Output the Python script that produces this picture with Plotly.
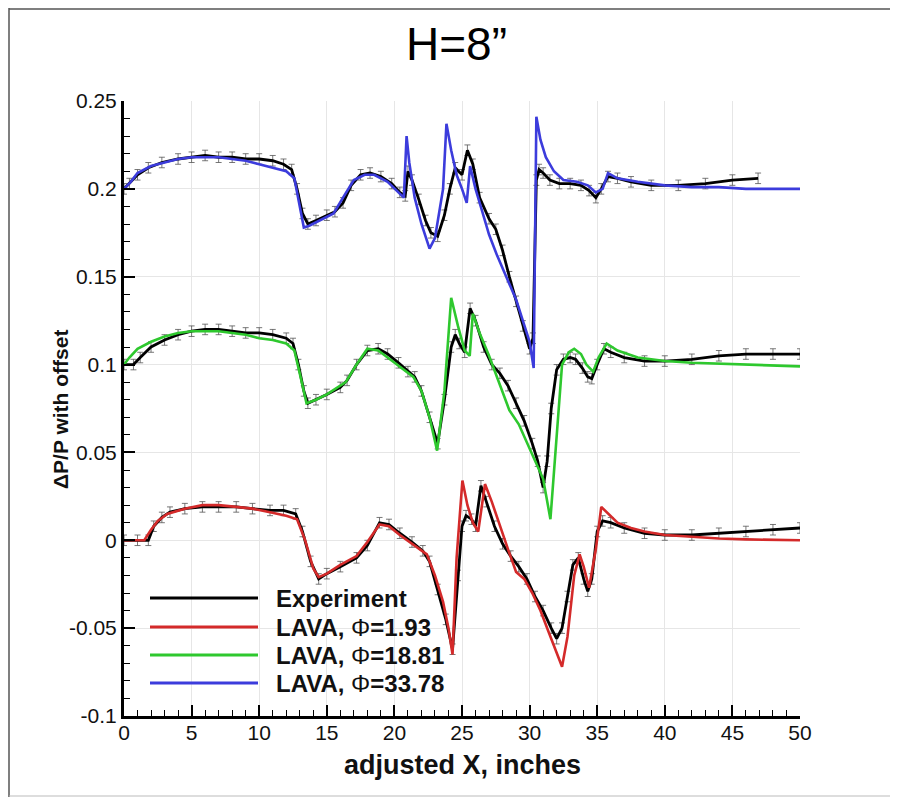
import plotly.graph_objects as go

# ---------------- data ----------------
# Top group (offset 0.2): Experiment vs LAVA Phi=33.78
x_exp_top = [0, 0.4, 1.0, 1.8, 2.8, 4, 5, 6, 7, 8, 9, 10, 11, 11.8, 12.4, 12.8, 13.2, 13.6,
             14.2, 15, 15.6, 16.2, 16.8, 17.5, 18.2, 19, 19.8, 20.4, 20.8, 21.0, 21.3, 21.8,
             22.3, 22.7, 23.2, 23.7, 24.1, 24.5, 25.0, 25.4, 25.8, 26.3, 27.0, 27.5, 28.0,
             28.5, 29.0, 29.5, 30.0, 30.25, 30.5, 30.7, 31.0, 31.5, 32.2, 33.0, 33.8, 34.4,
             34.9, 35.3, 35.8, 36.5, 37.5, 39, 41, 43, 45, 46.9]
y_exp_top = [0.200, 0.203, 0.208, 0.212, 0.215, 0.217, 0.218, 0.219, 0.218, 0.218, 0.217,
             0.217, 0.216, 0.214, 0.211, 0.200, 0.186, 0.180, 0.182, 0.185, 0.187, 0.192,
             0.202, 0.208, 0.209, 0.207, 0.203, 0.198, 0.196, 0.210, 0.205, 0.194, 0.182,
             0.175, 0.173, 0.185, 0.200, 0.212, 0.208, 0.222, 0.214, 0.195, 0.183, 0.177,
             0.165, 0.150, 0.136, 0.122, 0.109, 0.115, 0.205, 0.211, 0.209, 0.205, 0.203,
             0.203, 0.202, 0.199, 0.195, 0.200, 0.207, 0.206, 0.204, 0.202, 0.202, 0.203,
             0.205, 0.206]

x_lava_33 = [0, 0.5, 1, 2, 3, 4, 5, 6, 7, 8, 9, 10, 11, 12, 12.6, 13.0, 13.3, 13.7, 14.5,
             15.5, 16.2, 17, 17.8, 18.5, 19.5, 20.3, 20.7, 20.9, 21.1, 21.5, 22.0, 22.6, 23.0,
             23.6, 23.85, 24.2, 24.6, 25.0, 25.35, 25.6, 26.0, 26.5, 27.0, 27.6, 28.3, 29.0,
             29.5, 30.0, 30.3, 30.5, 30.8, 31.2, 31.8, 32.5, 33.5, 34.3, 34.9, 35.4, 35.8,
             36.5, 38, 40, 42, 44, 46, 48, 50]
y_lava_33 = [0.200, 0.204, 0.209, 0.213, 0.215, 0.217, 0.218, 0.218, 0.218, 0.217, 0.216,
             0.214, 0.212, 0.210, 0.206, 0.190, 0.178, 0.179, 0.182, 0.186, 0.195, 0.205,
             0.208, 0.208, 0.204, 0.198, 0.195, 0.230, 0.215, 0.195, 0.180, 0.166, 0.172,
             0.200, 0.237, 0.222, 0.208, 0.200, 0.192, 0.213, 0.200, 0.187, 0.174, 0.162,
             0.150, 0.137, 0.125, 0.113, 0.098, 0.241, 0.228, 0.218, 0.210, 0.205, 0.204,
             0.202, 0.198, 0.200, 0.209, 0.206, 0.204, 0.202, 0.201, 0.201, 0.200, 0.200,
             0.200]

# Middle group (offset 0.1): Experiment vs LAVA Phi=18.81
x_exp_mid = [0, 0.7, 1.2, 2, 3, 4, 5, 6, 7, 8, 9, 10, 11, 12, 12.5, 12.9, 13.3, 13.6, 14.2,
             15, 16, 16.5, 17.2, 18, 18.8, 19.5, 20.3, 21, 21.5, 22.0, 22.6, 23.2, 23.7, 24.2,
             24.5, 24.8, 25.2, 25.6, 26.0, 26.6, 27.2, 27.8, 28.4, 29.0, 29.6, 30.2, 30.6,
             31.0, 31.3, 31.6, 32.0, 32.5, 33.0, 33.4, 33.9, 34.3, 34.6, 35.0, 35.5, 36.0, 37,
             38.5, 40, 42, 44, 46, 48, 50]
y_exp_mid = [0.100, 0.100, 0.104, 0.110, 0.114, 0.117, 0.119, 0.120, 0.120, 0.119, 0.118,
             0.118, 0.117, 0.115, 0.112, 0.100, 0.085, 0.078, 0.080, 0.083, 0.087, 0.091,
             0.100, 0.108, 0.109, 0.106, 0.101, 0.096, 0.093, 0.085, 0.070, 0.055, 0.080,
             0.110, 0.117, 0.112, 0.107, 0.132, 0.125, 0.110, 0.100, 0.095, 0.088, 0.078,
             0.068, 0.055, 0.045, 0.030, 0.045, 0.075, 0.097, 0.103, 0.104, 0.103, 0.098,
             0.093, 0.092, 0.100, 0.109, 0.107, 0.104, 0.102, 0.102, 0.103, 0.105, 0.106,
             0.106, 0.106]

x_lava_18 = [0, 0.4, 1, 2, 3, 4, 5, 6, 7, 8, 9, 10, 11, 12, 12.6, 13.0, 13.5, 14.2, 15, 16.4,
             17.2, 18.0, 18.8, 19.5, 20.4, 21.4, 22.0, 22.6, 23.16, 23.7, 24.2, 24.7, 25.2,
             25.57, 25.8, 26.3, 27.0, 27.8, 28.5, 29.2, 29.8, 30.4, 31.0, 31.54, 31.9, 32.4,
             32.9, 33.3, 33.8, 34.2, 34.7, 35.1, 35.7, 36.5, 38, 40, 42, 44, 46, 48, 50]
y_lava_18 = [0.100, 0.104, 0.109, 0.113, 0.116, 0.118, 0.119, 0.119, 0.119, 0.118, 0.117,
             0.115, 0.114, 0.112, 0.108, 0.095, 0.078, 0.080, 0.083, 0.090, 0.100, 0.109,
             0.108, 0.104, 0.099, 0.093, 0.085, 0.070, 0.051, 0.085, 0.138, 0.122, 0.108,
             0.105, 0.129, 0.118, 0.105, 0.088, 0.074, 0.066, 0.056, 0.045, 0.035, 0.012,
             0.050, 0.100, 0.107, 0.109, 0.106, 0.100, 0.096, 0.104, 0.112, 0.108, 0.104,
             0.102, 0.101, 0.1005, 0.100, 0.0995, 0.099]

# Bottom group (no offset): Experiment vs LAVA Phi=1.93
x_exp_bot = [0, 1.0, 1.8, 2.2, 2.8, 3.4, 4.5, 5.8, 7, 8.3, 9.5, 10.8, 11.8, 12.7, 13.2, 13.8,
             14.4, 15, 16, 17.2, 18, 18.9, 19.6, 20.4, 21.3, 22.1, 22.6, 23.2, 23.8, 24.3,
             24.7, 25.0, 25.3, 25.7, 26.0, 26.4, 26.8, 27.4, 28.0, 28.6, 29.2, 29.8, 30.4,
             31.0, 31.6, 32.0, 32.4, 32.8, 33.2, 33.6, 34.0, 34.3, 34.6, 35.0, 35.4, 36, 37,
             38.5, 40, 42, 44, 46, 48, 50]
y_exp_bot = [0, 0, 0, 0.008, 0.013, 0.016, 0.018, 0.019, 0.019, 0.019, 0.018, 0.017, 0.017,
             0.015, 0.005, -0.012, -0.022, -0.019, -0.015, -0.010, -0.003, 0.010, 0.009,
             0.004, -0.001, -0.006, -0.012, -0.028, -0.045, -0.062, -0.020, 0.008, 0.014,
             0.012, 0.008, 0.031, 0.022, 0.008, -0.002, -0.009, -0.015, -0.022, -0.032,
             -0.040, -0.050, -0.056, -0.050, -0.032, -0.014, -0.010, -0.022, -0.029, -0.022,
             0.005, 0.011, 0.010, 0.007, 0.004, 0.003, 0.003, 0.004, 0.005, 0.006, 0.007]

x_lava_1 = [0, 1.5, 2.0, 2.5, 3.2, 4.5, 5.8, 7, 8.3, 9.5, 10.8, 12, 12.8, 13.4, 14.0, 14.4,
            15, 16, 17.2, 18, 18.9, 19.6, 20.4, 21.3, 22.4, 23.0, 23.6, 24.0, 24.3, 24.6,
            25.03, 25.4, 25.8, 26.2, 26.7, 27.2, 27.8, 28.4, 29.0, 29.6, 30.2, 30.8, 31.4,
            32.0, 32.4, 32.8, 33.3, 33.7, 34.0, 34.4, 34.9, 35.3, 35.8, 36.5, 37.5, 38.5, 40,
            42, 44, 46, 48, 50]
y_lava_1 = [0, 0, 0.006, 0.011, 0.015, 0.018, 0.020, 0.020, 0.019, 0.018, 0.016, 0.014,
            0.012, 0.000, -0.016, -0.021, -0.019, -0.014, -0.009, -0.001, 0.009, 0.008,
            0.003, -0.002, -0.008, -0.020, -0.035, -0.050, -0.065, -0.010, 0.034, 0.020,
            0.010, 0.005, 0.032, 0.022, 0.008, -0.005, -0.018, -0.022, -0.030, -0.040,
            -0.052, -0.064, -0.072, -0.055, -0.020, -0.008, -0.015, -0.027, -0.005, 0.019,
            0.015, 0.010, 0.007, 0.005, 0.003, 0.002, 0.001, 0.0005, 0.0002, 0]

exp_err = 0.003  # typical experimental uncertainty (error-bar half height)

x_tick_vals = [0, 5, 10, 15, 20, 25, 30, 35, 40, 45, 50]
y_tick_vals = [0.25, 0.2, 0.15, 0.1, 0.05, 0, -0.05, -0.1]
y_tick_text = ["0.25", "0.2", "0.15", "0.1", "0.05", "0", "-0.05", "-0.1"]

series_names = ["Experiment", "LAVA, Φ=1.93", "LAVA, Φ=18.81", "LAVA, Φ=33.78"]
series_colors = ["#000000", "#d42a2a", "#2ec82e", "#3c3cdc"]

# ---------------- figure ----------------
fig = go.Figure()

for xs, ys in [(x_exp_top, y_exp_top), (x_exp_mid, y_exp_mid), (x_exp_bot, y_exp_bot)]:
    fig.add_trace(go.Scatter(
        x=xs, y=ys, mode="lines", name=series_names[0],
        line=dict(color=series_colors[0], width=2.8),
        error_y=dict(type="constant", value=exp_err, color="#555555", thickness=0.8, width=3),
        showlegend=False))

for xs, ys, idx in [(x_lava_1, y_lava_1, 1), (x_lava_18, y_lava_18, 2), (x_lava_33, y_lava_33, 3)]:
    fig.add_trace(go.Scatter(
        x=xs, y=ys, mode="lines", name=series_names[idx],
        line=dict(color=series_colors[idx], width=2.6),
        showlegend=False))

# page offset of the figure (body margin) is 8 px
OFF = 8
L, T = 124 - OFF, 101 - OFF
PW, PH = 676, 615
W, H = 882, 790
R, B = W - L - PW, H - T - PH

def px_x(p):   # page pixel -> paper x
    return (p - 124) / PW

def px_y(p):   # page pixel -> paper y
    return (716 - p) / PH

shapes = []
annotations = []

# outer frame of the picture (left, top, bottom edges; right edge is cut off)
frame = dict(color="#555555", width=1.5)
shapes.append(dict(type="line", xref="paper", yref="paper", x0=px_x(9), x1=px_x(9),
                   y0=px_y(797), y1=px_y(8), line=frame, layer="below"))
shapes.append(dict(type="line", xref="paper", yref="paper", x0=px_x(9), x1=px_x(898),
                   y0=px_y(9), y1=px_y(9), line=frame, layer="below"))
shapes.append(dict(type="line", xref="paper", yref="paper", x0=px_x(9), x1=px_x(898),
                   y0=px_y(796), y1=px_y(796), line=dict(color="#bbbbbb", width=1),
                   layer="below"))

# manual legend
leg_rows = [598, 627, 655, 683]
for i, row in enumerate(leg_rows):
    shapes.append(dict(type="line", xref="paper", yref="paper",
                       x0=px_x(150), x1=px_x(258), y0=px_y(row), y1=px_y(row),
                       line=dict(color=series_colors[i], width=3)))
    name = series_names[i]
    if "Φ" in name:
        a, b = name.split("Φ")
        txt = "<b>" + a + "</b>Φ<b>" + b + "</b>"
    else:
        txt = "<b>" + name + "</b>"
    annotations.append(dict(text=txt, xref="paper", yref="paper", x=px_x(274), y=px_y(row),
                            xanchor="left", yanchor="middle", showarrow=False,
                            font=dict(family="Liberation Sans, Arial", size=24, color="#111111")))

# titles
annotations.append(dict(text="H=8”", xref="paper", yref="paper", x=px_x(456), y=px_y(44),
                        xanchor="center", yanchor="middle", showarrow=False,
                        font=dict(family="Liberation Sans Narrow, Liberation Sans, Arial",
                                  size=46, color="#000000")))
annotations.append(dict(text="<b>ΔP/P with offset</b>", xref="paper", yref="paper",
                        x=px_x(60), y=px_y(410), textangle=-90,
                        xanchor="center", yanchor="middle", showarrow=False,
                        font=dict(family="Liberation Sans, Arial", size=21, color="#111111")))
annotations.append(dict(text="<b>adjusted X, inches</b>", xref="paper", yref="paper",
                        x=px_x(462), y=px_y(765),
                        xanchor="center", yanchor="middle", showarrow=False,
                        font=dict(family="Liberation Sans, Arial", size=27, color="#111111")))

tick_font = dict(family="Liberation Sans Narrow, Liberation Sans, Arial", size=21, color="#111111")

fig.update_layout(
    width=W, height=H,
    margin=dict(l=L, r=R, t=T, b=B, autoexpand=False),
    paper_bgcolor="white", plot_bgcolor="white",
    showlegend=False,
    shapes=shapes, annotations=annotations,
    xaxis=dict(range=[0, 50], tickvals=x_tick_vals, ticks="inside", ticklen=11, tickwidth=2,
               tickcolor="black", showline=True, linewidth=3, linecolor="black",
               showgrid=True, gridcolor="#e6e6e6", gridwidth=1, zeroline=False,
               tickfont=tick_font, ticklabelstandoff=-4,
               minor=dict(dtick=1, ticks="inside", ticklen=6, tickwidth=1.2,
                          tickcolor="black", showgrid=False)),
    yaxis=dict(range=[-0.1, 0.25], tickvals=y_tick_vals, ticktext=y_tick_text,
               ticks="inside", ticklen=11, tickwidth=2, tickcolor="black",
               showline=True, linewidth=3, linecolor="black",
               showgrid=True, gridcolor="#e6e6e6", gridwidth=1, zeroline=False,
               tickfont=tick_font,
               minor=dict(dtick=0.01, tick0=0, ticks="inside", ticklen=6, tickwidth=1.2,
                          tickcolor="black", showgrid=False)),
)

fig.write_html("out.html")
